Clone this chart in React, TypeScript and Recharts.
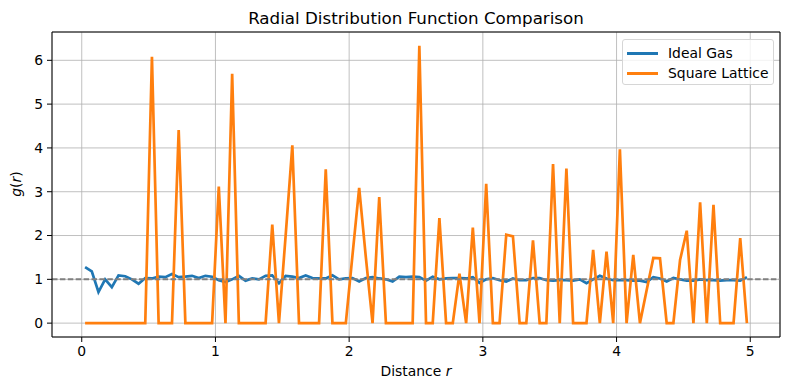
import {
  CartesianGrid,
  Label,
  Line,
  LineChart,
  ReferenceLine,
  XAxis,
  YAxis,
} from "recharts";

/** --------- Data --------- */
const binCenters = [
  0.025, 0.075, 0.125, 0.175, 0.225, 0.275, 0.325, 0.375, 0.425, 0.475,
  0.525, 0.575, 0.625, 0.675, 0.725, 0.775, 0.825, 0.875, 0.925, 0.975,
  1.025, 1.075, 1.125, 1.175, 1.225, 1.275, 1.325, 1.375, 1.425, 1.475,
  1.525, 1.575, 1.625, 1.675, 1.725, 1.775, 1.825, 1.875, 1.925, 1.975,
  2.025, 2.075, 2.125, 2.175, 2.225, 2.275, 2.325, 2.375, 2.425, 2.475,
  2.525, 2.575, 2.625, 2.675, 2.725, 2.775, 2.825, 2.875, 2.925, 2.975,
  3.025, 3.075, 3.125, 3.175, 3.225, 3.275, 3.325, 3.375, 3.425, 3.475,
  3.525, 3.575, 3.625, 3.675, 3.725, 3.775, 3.825, 3.875, 3.925, 3.975,
  4.025, 4.075, 4.125, 4.175, 4.225, 4.275, 4.325, 4.375, 4.425, 4.475,
  4.525, 4.575, 4.625, 4.675, 4.725, 4.775, 4.825, 4.875, 4.925, 4.975,
];

const idealGas = [
  1.28, 1.18, 0.71, 1.0, 0.82, 1.09, 1.07, 1.0, 0.9, 1.03,
  1.02, 1.06, 1.05, 1.12, 1.05, 1.06, 1.08, 1.03, 1.08, 1.06,
  0.98, 0.94, 1.0, 1.08, 0.97, 1.02, 1.0, 1.08, 1.09, 0.91,
  1.08, 1.06, 1.03, 1.09, 1.03, 1.02, 1.02, 1.09, 1.0, 1.02,
  1.03, 0.95, 1.03, 1.05, 1.02, 1.0, 0.95, 1.06, 1.05, 1.06,
  1.05, 0.97, 1.06, 1.0, 1.02, 1.03, 1.03, 1.02, 1.05, 0.92,
  1.0, 1.03, 0.98, 0.95, 1.02, 0.98, 0.98, 1.03, 1.03, 0.98,
  0.97, 0.98, 0.98, 0.97, 1.0, 0.91, 1.0, 1.08, 1.02, 0.98,
  0.98, 0.98, 0.97, 0.97, 0.94, 1.05, 1.02, 0.95, 1.03, 1.0,
  0.97, 0.97, 1.0, 0.98, 0.98, 0.97, 0.98, 0.98, 0.97, 1.05,
];

const squareLattice = [
  0, 0, 0, 0, 0, 0, 0, 0, 0, 0,
  6.08, 0, 0, 0, 4.41, 0, 0, 0, 0, 0,
  3.12, 0, 5.69, 0, 0, 0, 0, 0, 2.25, 0,
  2.0, 4.06, 0, 0, 0, 0, 3.51, 0, 0, 0,
  1.55, 3.09, 1.5, 0, 2.88, 0, 0, 0, 0, 0,
  6.33, 0, 0, 2.4, 0, 0, 1.13, 0, 2.18, 0,
  3.18, 0, 0, 2.02, 1.98, 0, 0, 1.89, 0, 0,
  3.63, 0, 3.53, 0, 0, 0, 1.67, 0, 1.63, 0,
  3.97, 0, 1.56, 0, 0.75, 1.49, 1.48, 0, 0, 1.44,
  2.11, 0, 2.76, 0, 2.7, 0, 0, 0, 1.94, 0,
];

const xTicks = [0, 1, 2, 3, 4, 5];
const yTicks = [0, 1, 2, 3, 4, 5, 6];

const seriesNames = ["Ideal Gas", "Square Lattice"];
const seriesColors = ["#1f77b4", "#ff7f0e"];

const chartData = binCenters.map((r, i) => ({
  r,
  ideal: idealGas[i],
  lattice: squareLattice[i],
}));

const FONT = "'DejaVu Sans', sans-serif";
const X_DOMAIN = [-0.2225, 5.2225];
const Y_DOMAIN = [-0.3165, 6.6465];

/** --------- Helpers --------- */
const XLabel = () => (
  <text x={416} y={376} textAnchor="middle" fontSize={13.9} fontFamily={FONT} fill="#000">
    Distance <tspan fontStyle="italic">r</tspan>
  </text>
);

const YLabel = () => (
  <text
    x={21}
    y={184}
    transform="rotate(-90 21 184)"
    textAnchor="middle"
    fontSize={13.9}
    fontFamily={FONT}
    fill="#000"
  >
    <tspan fontStyle="italic">g</tspan>(<tspan fontStyle="italic">r</tspan>)
  </text>
);

const LegendBox = () => (
  <div
    style={{
      position: "absolute",
      left: 622,
      top: 39,
      width: 150,
      height: 44,
      border: "1px solid #d6d6d6",
      borderRadius: 3,
      background: "rgba(255,255,255,0.8)",
      fontFamily: FONT,
      fontSize: 13.9,
    }}
  >
    {seriesNames.map((name, i) => (
      <div
        key={name}
        style={{
          position: "absolute",
          left: 4,
          top: 3 + i * 20,
          height: 20,
          display: "flex",
          alignItems: "center",
          whiteSpace: "nowrap",
        }}
      >
        <span
          style={{
            display: "inline-block",
            width: 31,
            height: 3,
            background: seriesColors[i],
            marginRight: 10,
          }}
        />
        <span>{name}</span>
      </div>
    ))}
  </div>
);

/** --------- Chart --------- */
export default function App() {
  return (
    <div
      style={{
        position: "absolute",
        left: 0,
        top: 0,
        width: 790,
        height: 390,
        background: "#fff",
        fontFamily: FONT,
      }}
    >
      <div
        style={{
          position: "absolute",
          left: 52,
          width: 728,
          top: 10,
          textAlign: "center",
          fontSize: 16.7,
          lineHeight: 1,
          color: "#000",
        }}
      >
        Radial Distribution Function Comparison
      </div>

      <LineChart
        width={790}
        height={390}
        data={chartData}
        margin={{ top: 32, right: 10, bottom: 23, left: 0 }}
      >
        <CartesianGrid stroke="#b0b0b0" strokeWidth={0.8} />
        <XAxis
          dataKey="r"
          type="number"
          domain={X_DOMAIN}
          ticks={xTicks}
          allowDataOverflow
          height={30}
          tickSize={5}
          tickMargin={4}
          stroke="#000"
          tick={{ fontSize: 13.9, fill: "#000", fontFamily: FONT }}
        >
          <Label content={<XLabel />} />
        </XAxis>
        <YAxis
          type="number"
          domain={Y_DOMAIN}
          ticks={yTicks}
          allowDataOverflow
          width={52}
          tickSize={5}
          tickMargin={4}
          stroke="#000"
          tick={{ fontSize: 13.9, fill: "#000", fontFamily: FONT }}
        >
          <Label content={<YLabel />} />
        </YAxis>
        <ReferenceLine y={Y_DOMAIN[1]} stroke="#000" strokeWidth={1} />
        <ReferenceLine x={X_DOMAIN[1]} stroke="#000" strokeWidth={1} />
        <Line
          type="linear"
          dataKey="ideal"
          name={seriesNames[0]}
          stroke={seriesColors[0]}
          strokeWidth={2.7}
          dot={false}
          isAnimationActive={false}
        />
        <Line
          type="linear"
          dataKey="lattice"
          name={seriesNames[1]}
          stroke={seriesColors[1]}
          strokeWidth={2.7}
          dot={false}
          isAnimationActive={false}
        />
        <ReferenceLine y={1} stroke="#808080" strokeWidth={2} strokeDasharray="5.5 2.4" />
      </LineChart>

      <LegendBox />
    </div>
  );
}
